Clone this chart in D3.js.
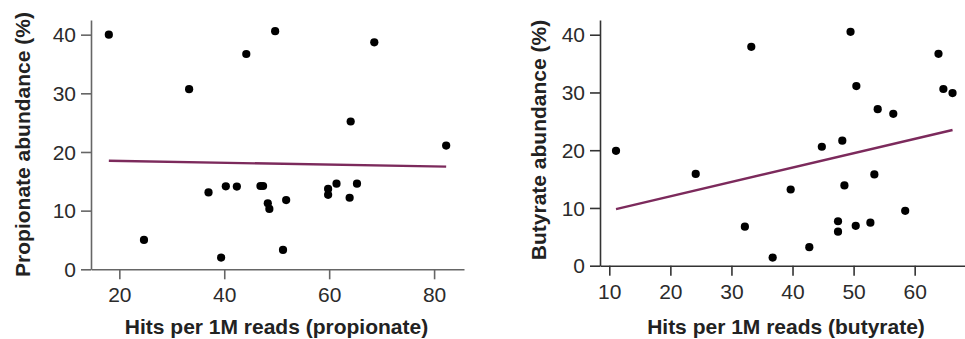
<!DOCTYPE html>
<html>
<head>
<meta charset="utf-8">
<script src="https://cdn.jsdelivr.net/npm/d3@7"></script>
<style>
  html, body { margin: 0; padding: 0; background: #fff; }
  svg { display: block; font-family: "Liberation Sans", Arial, Helvetica, sans-serif; }
</style>
</head>
<body>
<svg id="chart" width="965" height="339"></svg>
<script>
// ---- Data ----
const propHits = [18.0, 33.3, 44.2, 49.7, 64.1, 68.6, 82.3, 24.7, 37.0, 40.3, 42.4, 39.4, 46.9, 47.4, 48.3, 48.6, 51.2, 51.8, 59.8, 59.8, 61.4, 63.9, 65.3];
const propAbund = [40.0, 30.7, 36.7, 40.6, 25.2, 38.7, 21.1, 5.0, 13.1, 14.15, 14.1, 2.0, 14.2, 14.2, 11.25, 10.3, 3.3, 11.8, 13.7, 12.7, 14.6, 12.2, 14.6];
const propFitX = [18.0, 82.3];
const propFitY = [18.5, 17.5];

const butHits = [11.1, 33.25, 49.5, 50.45, 53.95, 56.5, 63.9, 64.7, 66.2, 44.8, 48.15, 24.15, 53.4, 48.5, 39.7, 58.45, 32.2, 47.45, 47.45, 50.35, 52.75, 42.75, 36.75];
const butAbund = [19.9, 37.9, 40.5, 31.1, 27.1, 26.3, 36.7, 30.6, 29.9, 20.6, 21.65, 15.9, 15.8, 13.9, 13.2, 9.5, 6.75, 7.7, 5.9, 6.9, 7.45, 3.2, 1.4];
const butFitX = [11.1, 66.2];
const butFitY = [9.8, 23.5];

const yTicks = [0, 10, 20, 30, 40];
const propXTicks = [20, 40, 60, 80];
const butXTicks = [10, 20, 30, 40, 50, 60];

const propXTitle = "Hits per 1M reads (propionate)";
const propYTitle = "Propionate abundance (%)";
const butXTitle = "Hits per 1M reads (butyrate)";
const butYTitle = "Butyrate abundance (%)";

// ---- Drawing ----
const svg = d3.select("#chart");
const lineColor = "#7c2a5c";

function panel(cfg) {
  const g = svg.append("g");
  const x = d3.scaleLinear().domain(cfg.xDomain).range([cfg.left, cfg.right]);
  const y = d3.scaleLinear().domain(cfg.yDomain).range([cfg.bottom, cfg.top]);

  const xAxis = g.append("g")
    .attr("transform", `translate(0,${cfg.bottom})`)
    .call(d3.axisBottom(x).tickValues(cfg.xTicks).tickSize(10).tickSizeOuter(0).tickPadding(8).tickFormat(d3.format("d")));
  const yAxis = g.append("g")
    .attr("transform", `translate(${cfg.left},0)`)
    .call(d3.axisLeft(y).tickValues(yTicks).tickSize(10).tickSizeOuter(0).tickPadding(5).tickFormat(d3.format("d")));

  [xAxis, yAxis].forEach(a => {
    a.select(".domain").attr("stroke", cfg.axisColor).attr("stroke-width", 1.6);
    a.selectAll(".tick line").attr("stroke", cfg.axisColor).attr("stroke-width", 1.6);
    a.selectAll(".tick text").attr("fill", "#2b2b2b").style("font-size", "21px")
      .style("font-family", "'Liberation Sans', Arial, sans-serif");
  });
  yAxis.selectAll(".tick text").attr("dy", "0.34em");

  // regression line
  const fit = cfg.fitX.map((v, i) => [v, cfg.fitY[i]]);
  g.append("path")
    .datum(fit)
    .attr("d", d3.line().x(d => x(d[0])).y(d => y(d[1])))
    .attr("stroke", lineColor)
    .attr("stroke-width", 2.4)
    .attr("fill", "none");

  // points
  g.selectAll("circle.pt")
    .data(cfg.xs.map((v, i) => [v, cfg.ys[i]]))
    .join("circle")
    .attr("class", "pt")
    .attr("cx", d => x(d[0]))
    .attr("cy", d => y(d[1]))
    .attr("r", 4.1)
    .attr("fill", "#000");

  // titles
  g.append("text")
    .attr("x", cfg.xTitleX)
    .attr("y", 334)
    .attr("text-anchor", "middle")
    .style("font-size", "21px")
    .style("font-weight", "bold")
    .attr("fill", "#222")
    .text(cfg.xTitle);

  g.append("text")
    .attr("transform", `translate(${cfg.yTitleX},${cfg.yTitleY}) rotate(-90)`)
    .attr("text-anchor", "middle")
    .style("font-size", "21px")
    .style("font-weight", "bold")
    .attr("fill", "#222")
    .text(cfg.yTitle);
}

panel({
  xDomain: [14.6, 85.7], yDomain: [0, 42.5],
  left: 91, right: 464, top: 20, bottom: 269.3,
  xTicks: propXTicks, xs: propHits, ys: propAbund,
  fitX: propFitX, fitY: propFitY,
  xTitle: propXTitle, yTitle: propYTitle,
  xTitleX: 276.5, yTitleX: 30, yTitleY: 144.5,
  axisColor: "#666"
});

panel({
  xDomain: [8.48, 68.24], yDomain: [0, 42.55],
  left: 600, right: 965, top: 20, bottom: 265.7,
  xTicks: butXTicks, xs: butHits, ys: butAbund,
  fitX: butFitX, fitY: butFitY,
  xTitle: butXTitle, yTitle: butYTitle,
  xTitleX: 786, yTitleX: 546, yTitleY: 140,
  axisColor: "#333"
});
</script>
</body>
</html>
